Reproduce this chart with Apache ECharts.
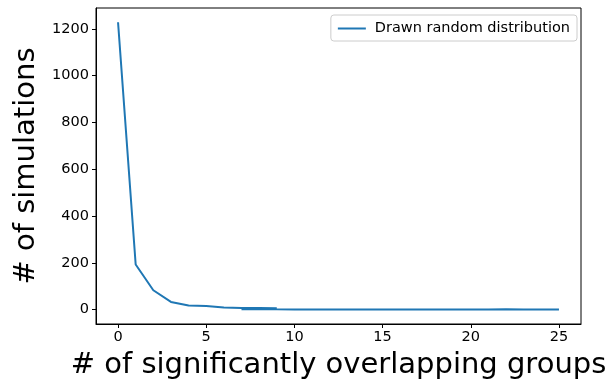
<!DOCTYPE html>
<html>
<head>
<meta charset="utf-8">
<script src="https://cdn.jsdelivr.net/npm/echarts@6/dist/echarts.min.js"></script>
<style>
  html, body { margin: 0; padding: 0; background: #fff; }
  #chart { width: 610px; height: 385px; }
</style>
</head>
<body>
<div id="chart"></div>
<script>
// points in drawn order (x is not sorted in the source, the line folds back near 7-9)
const xs = [0, 1, 2, 3, 4, 5, 6, 7, 8, 9, 7, 8, 9, 10, 11, 12, 13, 14, 15, 16, 17, 18, 19, 20, 21, 22, 23, 24, 25]
const ys = [1228, 193, 83, 33, 18, 16, 9, 7, 7, 6, 2, 2, 2, 1, 1, 1, 1, 1, 1, 1, 1, 1, 1, 1, 1, 2, 1, 1, 1]
const xTicks = [0, 5, 10, 15, 20, 25]
const yTicks = [0, 200, 400, 600, 800, 1000, 1200]

const chart = echarts.init(document.getElementById('chart'))
const font = 'DejaVu Sans'

chart.setOption({
  animation: false,
  grid: {
    left: 96, right: 29, top: 8, bottom: 61,
    outerBoundsMode: 'none',
    show: true, borderColor: '#000', borderWidth: 1
  },
  legend: {
    data: ['Drawn random distribution'],
    right: 33, top: 15,
    icon: 'rect',
    borderColor: '#ccc', borderWidth: 1, borderRadius: 3,
    padding: [6, 7, 5, 7],
    itemWidth: 28, itemHeight: 2, itemGap: 10,
    textStyle: { fontFamily: font, fontSize: 14.5, color: '#000', padding: [0, 0, 0, 4] }
  },
  xAxis: {
    type: 'value',
    min: -1.25, max: 26.25,
    name: '# of significantly overlapping groups',
    nameLocation: 'middle', nameGap: 27,
    nameTextStyle: { fontFamily: font, fontSize: 29, color: '#000' },
    axisLine: { show: true, onZero: false, lineStyle: { color: '#000' } },
    axisTick: { show: true, inside: false, length: 4, customValues: xTicks, lineStyle: { color: '#000' } },
    axisLabel: { customValues: xTicks, fontFamily: font, fontSize: 14.5, color: '#000', margin: 6 },
    splitLine: { show: false }
  },
  yAxis: {
    type: 'value',
    min: -61.4, max: 1289,
    name: '# of simulations',
    nameLocation: 'middle', nameGap: 40,
    nameTextStyle: { fontFamily: font, fontSize: 29, color: '#000' },
    axisLine: { show: true, onZero: false, lineStyle: { color: '#000' } },
    axisTick: { show: true, inside: false, length: 4, customValues: yTicks, lineStyle: { color: '#000' } },
    axisLabel: { customValues: yTicks, formatter: v => String(v), fontFamily: font, fontSize: 14.5, color: '#000', margin: 7 },
    splitLine: { show: false }
  },
  series: [
    {
      name: 'Drawn random distribution',
      type: 'line',
      symbol: 'none',
      data: xs.map((x, i) => [x, ys[i]]),
      lineStyle: { color: '#1f77b4', width: 2 },
      itemStyle: { color: '#1f77b4' }
    }
  ]
})
</script>
</body>
</html>
